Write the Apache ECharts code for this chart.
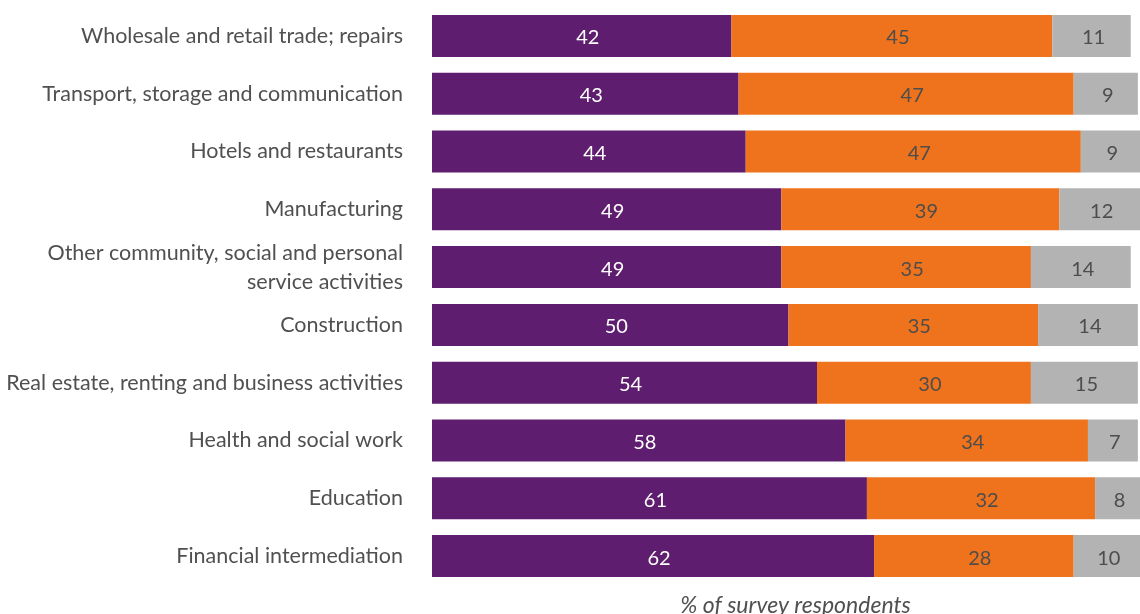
<!DOCTYPE html>
<html>
<head>
<meta charset="utf-8">
<script src="https://cdn.jsdelivr.net/npm/echarts@6/dist/echarts.min.js"></script>
<style>
  html, body { margin: 0; padding: 0; background: #fff; }
  #chart { width: 1140px; height: 614px; }
</style>
</head>
<body>
<div id="chart"></div>
<script>
// Sectors, listed top to bottom
const categories = [
  'Wholesale and retail trade; repairs',
  'Transport, storage and communication',
  'Hotels and restaurants',
  'Manufacturing',
  'Other community, social and personal\nservice activities',
  'Construction',
  'Real estate, renting and business activities',
  'Health and social work',
  'Education',
  'Financial intermediation'
];

// Shares of survey respondents (%), one array per stacked segment
const firstShare  = [42, 43, 44, 49, 49, 50, 54, 58, 61, 62];
const secondShare = [45, 47, 47, 39, 35, 35, 30, 34, 32, 28];
const thirdShare  = [11, 9, 9, 12, 14, 14, 15, 7, 8, 10];

const axisTitle = '% of survey respondents';

const FONT = 'Lato';
const TEXT = '#505050';

function segment(data, color, labelColor, dx) {
  return {
    type: 'bar',
    stack: 'total',
    data: data,
    barWidth: 42,
    clip: true,
    itemStyle: { color: color },
    label: {
      show: true,
      position: 'inside',
      offset: [dx, 2],
      color: labelColor,
      fontFamily: FONT,
      fontSize: 20
    },
    emphasis: { disabled: true },
    silent: true
  };
}

const chart = echarts.init(document.getElementById('chart'), null, { renderer: 'canvas' });
chart.setOption({
  animation: false,
  backgroundColor: '#ffffff',
  textStyle: { fontFamily: FONT },
  grid: {
    left: 432, right: 0, top: 7, bottom: 29,
    containLabel: false,
    outerBoundsMode: 'none'
  },
  xAxis: {
    type: 'value',
    min: 0,
    max: 99.3,
    axisLine: { show: false },
    axisTick: { show: false },
    axisLabel: { show: false },
    splitLine: { show: false },
    name: axisTitle,
    nameLocation: 'middle',
    nameGap: 9,
    nameTextStyle: {
      fontFamily: FONT,
      fontStyle: 'italic',
      fontSize: 23,
      color: TEXT,
      verticalAlign: 'top',
      padding: [0, 0, 0, 19]
    }
  },
  yAxis: {
    type: 'category',
    inverse: true,
    data: categories,
    axisLine: { show: false },
    axisTick: { show: false },
    axisLabel: {
      margin: 29,
      fontFamily: FONT,
      fontSize: 21.5,
      lineHeight: 29,
      color: TEXT,
      align: 'right'
    }
  },
  series: [
    segment(firstShare, '#5f1d6f', '#ffffff', 6),
    segment(secondShare, '#ee731c', '#4d4d4d', 6),
    segment(thirdShare, '#b3b3b3', '#4d4d4d', 2)
  ]
});
</script>
</body>
</html>
